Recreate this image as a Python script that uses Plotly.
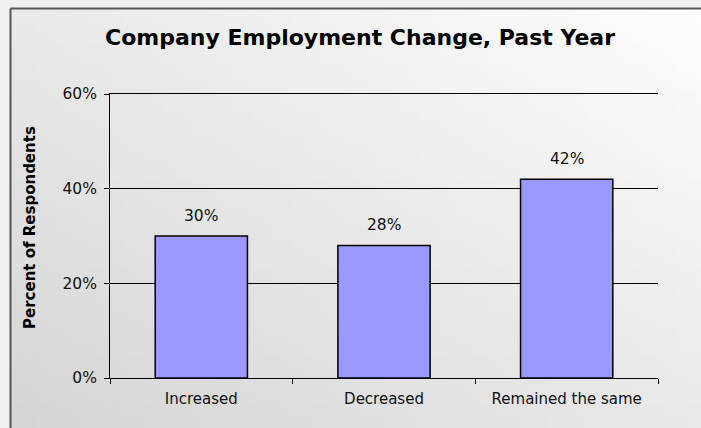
import base64
import struct
import zlib

import plotly.graph_objects as go

# Survey results
categories = ["Increased", "Decreased", "Remained the same"]
percent = [30, 28, 42]
y_ticks = [0, 20, 40, 60]
y_tick_labels = ["0%", "20%", "40%", "60%"]

W, H = 701, 428
L, R, T, B = 110, 43, 94, 50
plot_w = W - L - R
plot_h = H - T - B


def gradient_png(w, h, dark=213, light=253):
    """Diagonal grey gradient: darker at bottom-left, lighter at top-right."""
    rows = []
    for j in range(h):
        row = bytearray([0])
        v = j / (h - 1)
        for i in range(w):
            u = i / (w - 1)
            t = (u + (1 - v)) / 2
            c = int(round(dark + (light - dark) * t))
            row += bytes([c, c, c])
        rows.append(bytes(row))
    raw = b"".join(rows)

    def chunk(tag, data):
        body = tag + data
        return struct.pack(">I", len(data)) + body + struct.pack(">I", zlib.crc32(body) & 0xFFFFFFFF)

    png = b"\x89PNG\r\n\x1a\n"
    png += chunk(b"IHDR", struct.pack(">IIBBBBB", w, h, 8, 2, 0, 0, 0))
    png += chunk(b"IDAT", zlib.compress(raw, 9))
    png += chunk(b"IEND", b"")
    return "data:image/png;base64," + base64.b64encode(png).decode()


def px_x(p):
    return (p - L) / plot_w


def px_y(p):
    return (H - B - p) / plot_h


font_family = "DejaVu Sans, Verdana, sans-serif"

fig = go.Figure(
    go.Bar(
        x=categories,
        y=percent,
        width=0.505,
        marker=dict(color="#9999FF", line=dict(color="#000000", width=1.5)),
        hoverinfo="skip",
    )
)

# Value labels above each bar
for cat, val in zip(categories, percent):
    fig.add_annotation(
        x=cat, y=val, xref="x", yref="y",
        text=f"{val}%", showarrow=False,
        yanchor="bottom", yshift=9,
        font=dict(family=font_family, size=15.5, color="#111111"),
    )

# Rotated y-axis title
fig.add_annotation(
    x=px_x(30), y=px_y(228), xref="paper", yref="paper",
    text="<b>Percent of Respondents</b>", textangle=-90,
    showarrow=False, xanchor="center", yanchor="middle",
    font=dict(family=font_family, size=15, color="#000000"),
)

# Chart frame edges
fig.add_shape(type="line", xref="paper", yref="paper",
              x0=px_x(10.5), x1=px_x(W + 5), y0=px_y(8.5), y1=px_y(8.5),
              line=dict(color="#555555", width=2))
fig.add_shape(type="line", xref="paper", yref="paper",
              x0=px_x(10.5), x1=px_x(10.5), y0=px_y(8.5), y1=px_y(H + 5),
              line=dict(color="#555555", width=2))

fig.update_layout(
    width=W, height=H,
    margin=dict(l=L, r=R, t=T, b=B),
    paper_bgcolor="#f0f0f0",
    plot_bgcolor="rgba(0,0,0,0)",
    showlegend=False,
    title=dict(
        text="<b>Company Employment Change, Past Year</b>",
        x=360 / W, xanchor="center", xref="container",
        y=1 - 37 / H, yanchor="middle", yref="container",
        font=dict(family=font_family, size=22, color="#000000"),
    ),
    images=[dict(
        source=gradient_png(70, 43),
        xref="paper", yref="paper",
        x=px_x(11), y=px_y(9),
        sizex=px_x(W) - px_x(11), sizey=px_y(9) - px_y(H),
        xanchor="left", yanchor="top",
        sizing="stretch", layer="below",
    )],
    xaxis=dict(
        type="category",
        showline=True, mirror=True, linecolor="#000000", linewidth=1,
        ticks="outside", tickson="boundaries", ticklen=5,
        tickcolor="#000000", tickwidth=1,
        showgrid=False,
        ticklabelstandoff=7,
        tickfont=dict(family=font_family, size=15, color="#111111"),
    ),
    yaxis=dict(
        range=[0, 60],
        tickvals=y_ticks, ticktext=y_tick_labels,
        showline=True, linecolor="#000000", linewidth=1,
        ticks="outside", ticklen=5, tickcolor="#000000", tickwidth=1,
        showgrid=True, gridcolor="#000000", gridwidth=1,
        zeroline=False,
        ticklabelstandoff=4,
        tickfont=dict(family=font_family, size=15.5, color="#111111"),
    ),
)

fig.write_html("out.html")
